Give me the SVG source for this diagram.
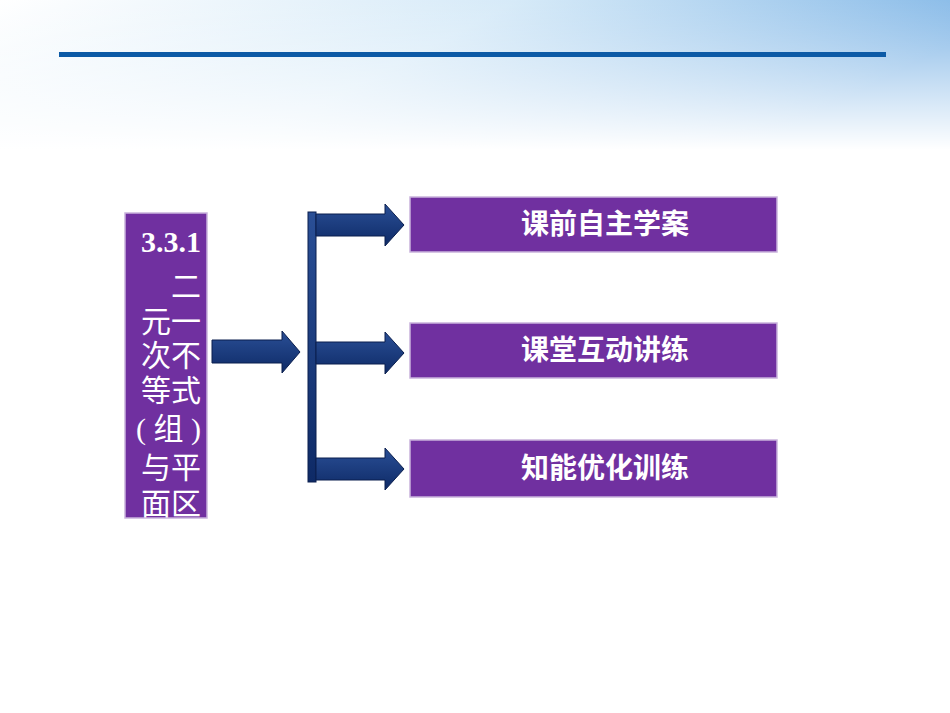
<svg xmlns="http://www.w3.org/2000/svg" width="950" height="713" viewBox="0 0 950 713">
<defs>
<linearGradient id="sky" x1="0" y1="0" x2="1" y2="0.3">
<stop offset="0" stop-color="#ffffff"/><stop offset="0.5" stop-color="#d6eaf8"/><stop offset="1" stop-color="#7fb5e6"/>
</linearGradient>
<linearGradient id="fade" x1="0" y1="0" x2="0" y2="1">
<stop offset="0" stop-color="#fff" stop-opacity="0"/><stop offset="1" stop-color="#fff" stop-opacity="1"/>
</linearGradient>
<linearGradient id="arr" x1="0" y1="0" x2="0" y2="1">
<stop offset="0" stop-color="#2a4f96"/><stop offset="1" stop-color="#0e2a66"/>
</linearGradient>
<style>
.box{fill:#7030a0;stroke:#c9b3dc;stroke-width:1.5}
.lbl{font-family:"Liberation Sans","Noto Sans CJK SC",sans-serif;font-weight:bold;font-size:28px;fill:#fff;text-anchor:middle}
.side{font-family:"Liberation Serif","Noto Sans CJK SC",serif;font-size:30px;fill:#fff;text-anchor:end}
.ar{fill:url(#arr);stroke:#0b1f4f;stroke-width:1}
</style>
</defs>
<rect width="950" height="713" fill="#fff"/>
<rect width="950" height="150" fill="url(#sky)"/>
<rect width="950" height="150" fill="url(#fade)"/>
<rect x="59" y="52" width="827" height="5" fill="#0c5aa6"/>
<g id="n0">
<rect class="box" x="125" y="213" width="82" height="305"/>
<text class="side" x="201" y="252" style="font-weight:bold">3.3.1</text>
<text class="side" x="201" y="297">二</text>
<text class="side" x="201" y="332">元一</text>
<text class="side" x="201" y="366">次不</text>
<text class="side" x="201" y="401">等式</text>
<text class="side" x="201" y="439">( 组 )</text>
<text class="side" x="201" y="478">与平</text>
<text class="side" x="201" y="514">面区</text>
</g>
<g id="connectors">
<path class="ar" d="M212,340 H282 V331 L300,352 L282,373 V363 H212 Z"/>
<rect class="ar" x="308" y="212" width="8" height="270"/>
<path class="ar" d="M316,214 H385 V204 L404,225 L385,246 V236 H316 Z"/>
<path class="ar" d="M316,342 H385 V332 L404,353 L385,374 V364 H316 Z"/>
<path class="ar" d="M316,458 H385 V448 L404,469 L385,490 V480 H316 Z"/>
</g>
<g id="n1"><rect class="box" x="410" y="197" width="367" height="55"/><text class="lbl" x="605" y="234">课前自主学案</text></g>
<g id="n2"><rect class="box" x="410" y="323" width="367" height="55"/><text class="lbl" x="605" y="360">课堂互动讲练</text></g>
<g id="n3"><rect class="box" x="410" y="440" width="367" height="57"/><text class="lbl" x="605" y="478">知能优化训练</text></g>
</svg>
